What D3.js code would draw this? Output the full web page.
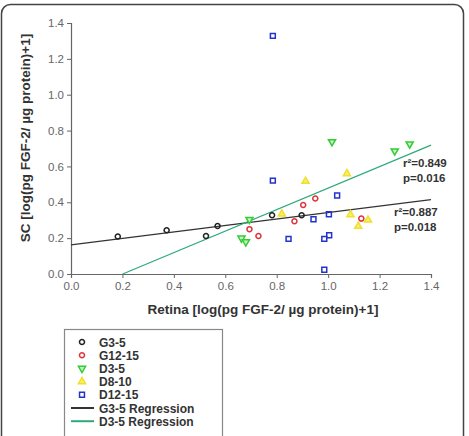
<!DOCTYPE html>
<html>
  <head>
    <meta charset="utf-8">
    <title>FGF-2 Retina vs SC</title>
    <script src="https://d3js.org/d3.v7.min.js"></script>
    <style>
      body { margin: 0; background: #fff; }
      svg { display: block; font-family: "Liberation Sans", Arial, sans-serif; }
    </style>
  </head>
  <body>
    <div id="chart"></div>
    <script>

      // data: [retina, sc]
      var g3_5   = [[0.182,0.209],[0.372,0.244],[0.525,0.212],[0.570,0.268],[0.782,0.328],[0.897,0.328]];
      var g12_15 = [[0.694,0.250],[0.729,0.212],[0.869,0.294],[0.903,0.385],[0.950,0.421],[1.129,0.309]];
      var d3_5   = [[1.015,0.738],[1.259,0.686],[1.317,0.725],[0.694,0.304],[0.663,0.200],[0.680,0.179]];
      var d8_10  = [[0.912,0.517],[1.073,0.560],[0.820,0.335],[1.087,0.331],[1.155,0.301],[1.117,0.266]];
      var d12_15 = [[0.785,1.328],[0.785,0.521],[1.035,0.438],[0.943,0.305],[1.003,0.333],
                    [0.846,0.196],[0.985,0.196],[1.004,0.216],[0.985,0.024]];

      // regression lines as end points
      var g3_5Fit = [[0.0,0.162],[1.4,0.415]];
      var d3_5Fit = [[0.201,0.0],[1.4,0.719]];

      var xTicks = [0,0.2,0.4,0.6,0.8,1.0,1.2,1.4];
      var yTicks = [0,0.2,0.4,0.6,0.8,1.0,1.2,1.4];

      var series = [
        {name: "G3-5",   data: g3_5,   shape: "circle",  stroke: "#222222", fill: "none"},
        {name: "G12-15", data: g12_15, shape: "circle",  stroke: "#e0333a", fill: "none"},
        {name: "D3-5",   data: d3_5,   shape: "triDown", stroke: "#33cc33", fill: "#c8f5c8"},
        {name: "D8-10",  data: d8_10,  shape: "triUp",   stroke: "#eee033", fill: "#f8f060"},
        {name: "D12-15", data: d12_15, shape: "square",  stroke: "#2233cc", fill: "none"}
      ];
      var fits = [
        {name: "G3-5 Regression", data: g3_5Fit, color: "#333333"},
        {name: "D3-5 Regression", data: d3_5Fit, color: "#2eaa7a"}
      ];
      var notes = [
        {lines: ["r\u00b2=0.849", "p=0.016"], at: [1.291, 0.597]},
        {lines: ["r\u00b2=0.887", "p=0.018"], at: [1.256, 0.323]}
      ];

      var W = 469, H = 436;
      var svg = d3.select("#chart").append("svg").attr("width", W).attr("height", H);

      // outer frame with rounded top corners
      svg.append("rect")
        .attr("x", 1.5).attr("y", 4.5).attr("width", 462).attr("height", 450)
        .attr("rx", 9)
        .attr("fill", "none").attr("stroke", "#444").attr("stroke-width", 1.5);

      var x = d3.scaleLinear().domain([0, 1.4]).range([71, 431]);
      var y = d3.scaleLinear().domain([0, 1.4]).range([274, 23]);

      var fmt = d3.format(".1f");
      var xAxis = svg.append("g").attr("transform", "translate(0,274)")
        .call(d3.axisBottom(x).tickValues(xTicks).tickFormat(fmt).tickSize(4).tickPadding(4));
      var yAxis = svg.append("g").attr("transform", "translate(71,0)")
        .call(d3.axisLeft(y).tickValues(yTicks).tickFormat(fmt).tickSize(4).tickPadding(3));

      [xAxis, yAxis].forEach(function (a) {
        a.select(".domain").attr("stroke", "#666").attr("stroke-width", 1.2);
        a.selectAll(".tick line").attr("stroke", "#666");
        a.selectAll(".tick text").attr("fill", "#666").style("font-size", "11.5px");
      });

      svg.append("text")
        .attr("x", 263).attr("y", 314)
        .attr("text-anchor", "middle")
        .style("font-size", "13.5px").style("font-weight", "bold").attr("fill", "#333")
        .text("Retina [log(pg FGF-2/ \u00b5g protein)+1]");

      svg.append("text")
        .attr("transform", "translate(30,138) rotate(-90)")
        .attr("text-anchor", "middle")
        .style("font-size", "13.5px").style("font-weight", "bold").attr("fill", "#333")
        .text("SC [log(pg FGF-2/ \u00b5g protein)+1]");

      // regression lines
      var line = d3.line().x(function (d) { return x(d[0]); }).y(function (d) { return y(d[1]); });
      svg.selectAll(".fit").data(fits).enter().append("path")
        .attr("class", "fit")
        .attr("d", function (d) { return line(d.data); })
        .attr("fill", "none")
        .attr("stroke", function (d) { return d.color; })
        .attr("stroke-width", 1.2);

      function symbolPath(shape) {
        if (shape === "circle") return d3.symbol(d3.symbolCircle, 20)();
        if (shape === "square") return d3.symbol(d3.symbolSquare, 24)();
        return d3.symbol(d3.symbolTriangle, 22)();
      }
      function symbolTransform(shape, px, py) {
        if (shape === "triDown") return "translate(" + px + "," + py + ") rotate(180)";
        return "translate(" + px + "," + py + ")";
      }

      series.forEach(function (s) {
        svg.append("g").selectAll("path").data(s.data).enter().append("path")
          .attr("d", symbolPath(s.shape))
          .attr("transform", function (d) { return symbolTransform(s.shape, x(d[0]), y(d[1])); })
          .attr("fill", s.fill)
          .attr("stroke", s.stroke)
          .attr("stroke-width", 1.5);
      });

      // r2 / p annotations
      notes.forEach(function (n) {
        var t = svg.append("text")
          .attr("x", x(n.at[0])).attr("y", y(n.at[1]))
          .style("font-size", "11.5px").style("font-weight", "bold").attr("fill", "#333");
        n.lines.forEach(function (l, i) {
          t.append("tspan").attr("x", x(n.at[0])).attr("dy", i === 0 ? 0 : 15).text(l);
        });
      });

      // legend
      var lg = svg.append("g");
      lg.append("rect")
        .attr("x", 64.5).attr("y", 329.5).attr("width", 158).attr("height", 120)
        .attr("fill", "#fff").attr("stroke", "#888").attr("stroke-width", 1.2);

      var rowY = function (i) { return 342 + i * 13.2; };
      series.forEach(function (s, i) {
        lg.append("path")
          .attr("d", symbolPath(s.shape))
          .attr("transform", symbolTransform(s.shape, 82, rowY(i)))
          .attr("fill", s.fill).attr("stroke", s.stroke).attr("stroke-width", 1.5);
        lg.append("text").attr("x", 99).attr("y", rowY(i) + 4.5)
          .style("font-size", "12px").style("font-weight", "bold").attr("fill", "#333")
          .text(s.name);
      });
      fits.forEach(function (f, j) {
        var ry = rowY(series.length + j);
        lg.append("line").attr("x1", 71).attr("x2", 94).attr("y1", ry).attr("y2", ry)
          .attr("stroke", f.color).attr("stroke-width", 2);
        lg.append("text").attr("x", 99).attr("y", ry + 4.5)
          .style("font-size", "12px").style("font-weight", "bold").attr("fill", "#333")
          .text(f.name);
      });

    </script>
  </body>
</html>
